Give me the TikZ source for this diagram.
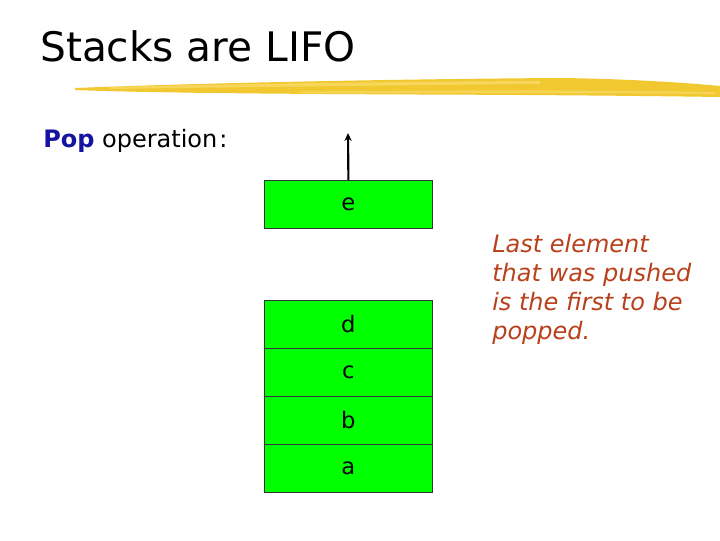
\documentclass[tikz,border=0pt]{standalone}
\usepackage{fontspec}
\setmainfont{DejaVu Sans}
\usetikzlibrary{arrows.meta}
\definecolor{boxgreen}{RGB}{0,255,0}
\definecolor{popblue}{RGB}{20,20,160}
\definecolor{notered}{RGB}{184,64,26}
\definecolor{brushA}{RGB}{242,200,48}
\definecolor{brushB}{RGB}{248,222,110}
\begin{document}
\begin{tikzpicture}[x=0.75pt,y=-0.75pt,
  cell/.style={draw=black!80,line width=0.6pt,fill=boxgreen,minimum width=126pt,minimum height=36pt,inner sep=0pt,font=\fontsize{17}{20}\selectfont,anchor=north west},
  popline/.style={line width=1.6pt,-{Stealth[length=6pt,width=5.5pt]}}]
\useasboundingbox (0,0) rectangle (720,540);
% title
\node[anchor=base west,inner sep=0pt,font=\fontsize{30.5}{36}\selectfont] (title) at (40,61) {Stacks are LIFO};
% brush stroke
\fill[brushA] (75,88) .. controls (200,83) and (400,79) .. (560,78) .. controls (640,79) and (700,84) .. (720,86)
  -- (720,97) .. controls (650,96) and (560,95) .. (420,94.5) .. controls (300,94) and (150,93) .. (75,90) -- cycle;
\fill[brushB,opacity=0.7] (110,87) .. controls (250,83.5) and (420,81.5) .. (540,81) -- (540,84) .. controls (420,85) and (250,87) .. (110,89) -- cycle;
\fill[brushB,opacity=0.6] (300,91.5) .. controls (450,90) and (600,90) .. (715,92) -- (715,94) .. controls (600,93) and (450,93) .. (300,93.5) -- cycle;
% pop label
\node[anchor=base west,inner sep=0pt,font=\fontsize{18}{22}\selectfont] (pop) at (43,147) {\textcolor{popblue}{\textbf{Pop}} operation\kern1.5pt:};
% stack
\node[cell] (e) at (264,180) {e};
\node[cell] (d) at (264,300) {d};
\node[cell] (c) at (264,348) {c};
\node[cell] (b) at (264,396) {b};
\node[cell] (a) at (264,444) {a};
\coordinate (top) at (348,133);
\draw[popline] (e.north) -- (top);
% note
\node[anchor=north west,inner sep=0pt,align=left,text=notered,font=\fontsize{18}{21.75}\itshape] (note) at (492,234)
 {Last element\\that was pushed\\is the first to be\\popped.};
\end{tikzpicture}
\end{document}
